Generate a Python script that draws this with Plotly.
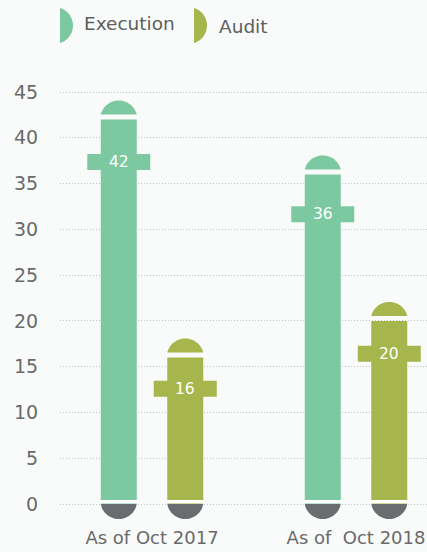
import math
import plotly.graph_objects as go

# ---- data ----
categories = ["As of Oct 2017", "As of\u00a0 Oct 2018"]
execution = [42, 36]
audit = [16, 20]
series_names = ["Execution", "Audit"]
y_ticks = [0, 5, 10, 15, 20, 25, 30, 35, 40, 45]

# ---- style ----
BG = "#f9fbfa"
C_EXEC = "#7cc9a1"
C_AUD = "#a6b64d"
C_GREY = "#6b6c70"
FONT = "DejaVu Sans"
BAR_W = 0.1765
BAR_OFF = 0.163


def segment(c, s, direction="up", n=28, gap=0.0):
    """Circular segment path with chord half length c and sagitta s (pixels)."""
    r = (c * c + s * s) / (2 * s)
    d = r - s
    th = math.asin(c / r)
    pts = []
    for i in range(n + 1):
        a = -th + 2 * th * i / n
        u = r * math.sin(a)
        v = r * math.cos(a) - d + gap
        if direction == "up":
            pts.append((u, v))
        elif direction == "down":
            pts.append((u, -v))
        elif direction == "right":
            pts.append((v, u))
    return "M " + " L ".join(f"{x:.2f},{y:.2f}" for x, y in pts) + " Z"


cat_x = list(range(len(categories)))
fig = go.Figure()
shapes = []
annotations = []

for k, (vals, col) in enumerate([(execution, C_EXEC), (audit, C_AUD)]):
    center_off = -BAR_OFF if k == 0 else BAR_OFF
    fig.add_trace(go.Bar(
        x=cat_x, y=vals, name=series_names[k],
        width=BAR_W, offset=center_off - BAR_W / 2,
        marker=dict(color=col, line=dict(width=0)),
        showlegend=False, hoverinfo="skip",
    ))
    for i, v in enumerate(vals):
        xc = cat_x[i] + center_off
        label_y = v * 0.952 - 2.63  # label sits a little below the bar top
        # top cap
        shapes.append(dict(type="path", xref="x", yref="y", xsizemode="pixel", ysizemode="pixel",
                           xanchor=xc, yanchor=v, path=segment(18, 14, "up", gap=5),
                           fillcolor=col, line=dict(width=0), layer="above"))
        # bottom grey cap
        shapes.append(dict(type="path", xref="x", yref="y", xsizemode="pixel", ysizemode="pixel",
                           xanchor=xc, yanchor=0, path=segment(18, 15, "down", gap=0),
                           fillcolor=C_GREY, line=dict(width=0), layer="above"))
        # white gap at bottom of bar
        shapes.append(dict(type="rect", xref="x", yref="y", xsizemode="pixel", ysizemode="pixel",
                           xanchor=xc, yanchor=0, x0=-19, x1=19, y0=0.5, y1=4,
                           fillcolor="white", line=dict(width=0), layer="above"))
        # label cross arm
        shapes.append(dict(type="rect", xref="x", yref="y", xsizemode="pixel", ysizemode="pixel",
                           xanchor=xc, yanchor=label_y, x0=-31.5, x1=31.5, y0=-8, y1=8,
                           fillcolor=col, line=dict(width=0), layer="above"))
        annotations.append(dict(x=xc, y=label_y, xref="x", yref="y", text=str(v),
                                showarrow=False, font=dict(family=FONT, size=15.5, color="white"),
                                xanchor="center", yanchor="middle"))

# ---- legend (manual) ----
PLOT_L, PLOT_W, PLOT_B, PLOT_H = 60, 367, 525, 435


def px_x(p):
    return (p - PLOT_L) / PLOT_W


def px_y(p):
    return (PLOT_B - p) / PLOT_H


legend_items = [(series_names[0], C_EXEC, 60, 82, 24), (series_names[1], C_AUD, 194, 217, 27)]
for name, col, mx, tx, ty in legend_items:
    shapes.append(dict(type="path", xref="paper", yref="paper", xsizemode="pixel", ysizemode="pixel",
                       xanchor=px_x(mx), yanchor=px_y(25.5), path=segment(17.5, 13, "right"),
                       fillcolor=col, line=dict(width=0)))
    annotations.append(dict(x=px_x(tx), y=px_y(ty), xref="paper", yref="paper", text=name,
                            showarrow=False, xanchor="left", yanchor="middle",
                            font=dict(family=FONT, size=18.5, color="#5e5e5e")))

fig.update_layout(
    width=427, height=552,
    margin=dict(l=60, r=0, t=90, b=27, autoexpand=False),
    paper_bgcolor=BG, plot_bgcolor=BG,
    barmode="overlay",
    shapes=shapes, annotations=annotations,
    font=dict(family=FONT, color="#6a6a6a"),
    xaxis=dict(range=[-0.451, 1.348], tickvals=cat_x, ticktext=categories,
               showgrid=False, zeroline=False, showline=False, automargin=False,
               ticklabeloverflow="allow", ticks="",
               tickfont=dict(family=FONT, size=18, color="#6a6a6a")),
    yaxis=dict(range=[-2.29, 45.22], tickvals=y_ticks, showgrid=True, griddash="1px,2px",
               gridcolor="#c4c4c4", gridwidth=1, zeroline=False, showline=False, automargin=False,
               ticks="outside", ticklen=17, tickcolor="rgba(0,0,0,0)",
               tickfont=dict(family=FONT, size=19, color="#6a6a6a")),
)

fig.write_html(
    "out.html",
    config={"displayModeBar": False},
    post_script="document.body.style.margin='0';document.body.style.overflow='hidden';",
)
